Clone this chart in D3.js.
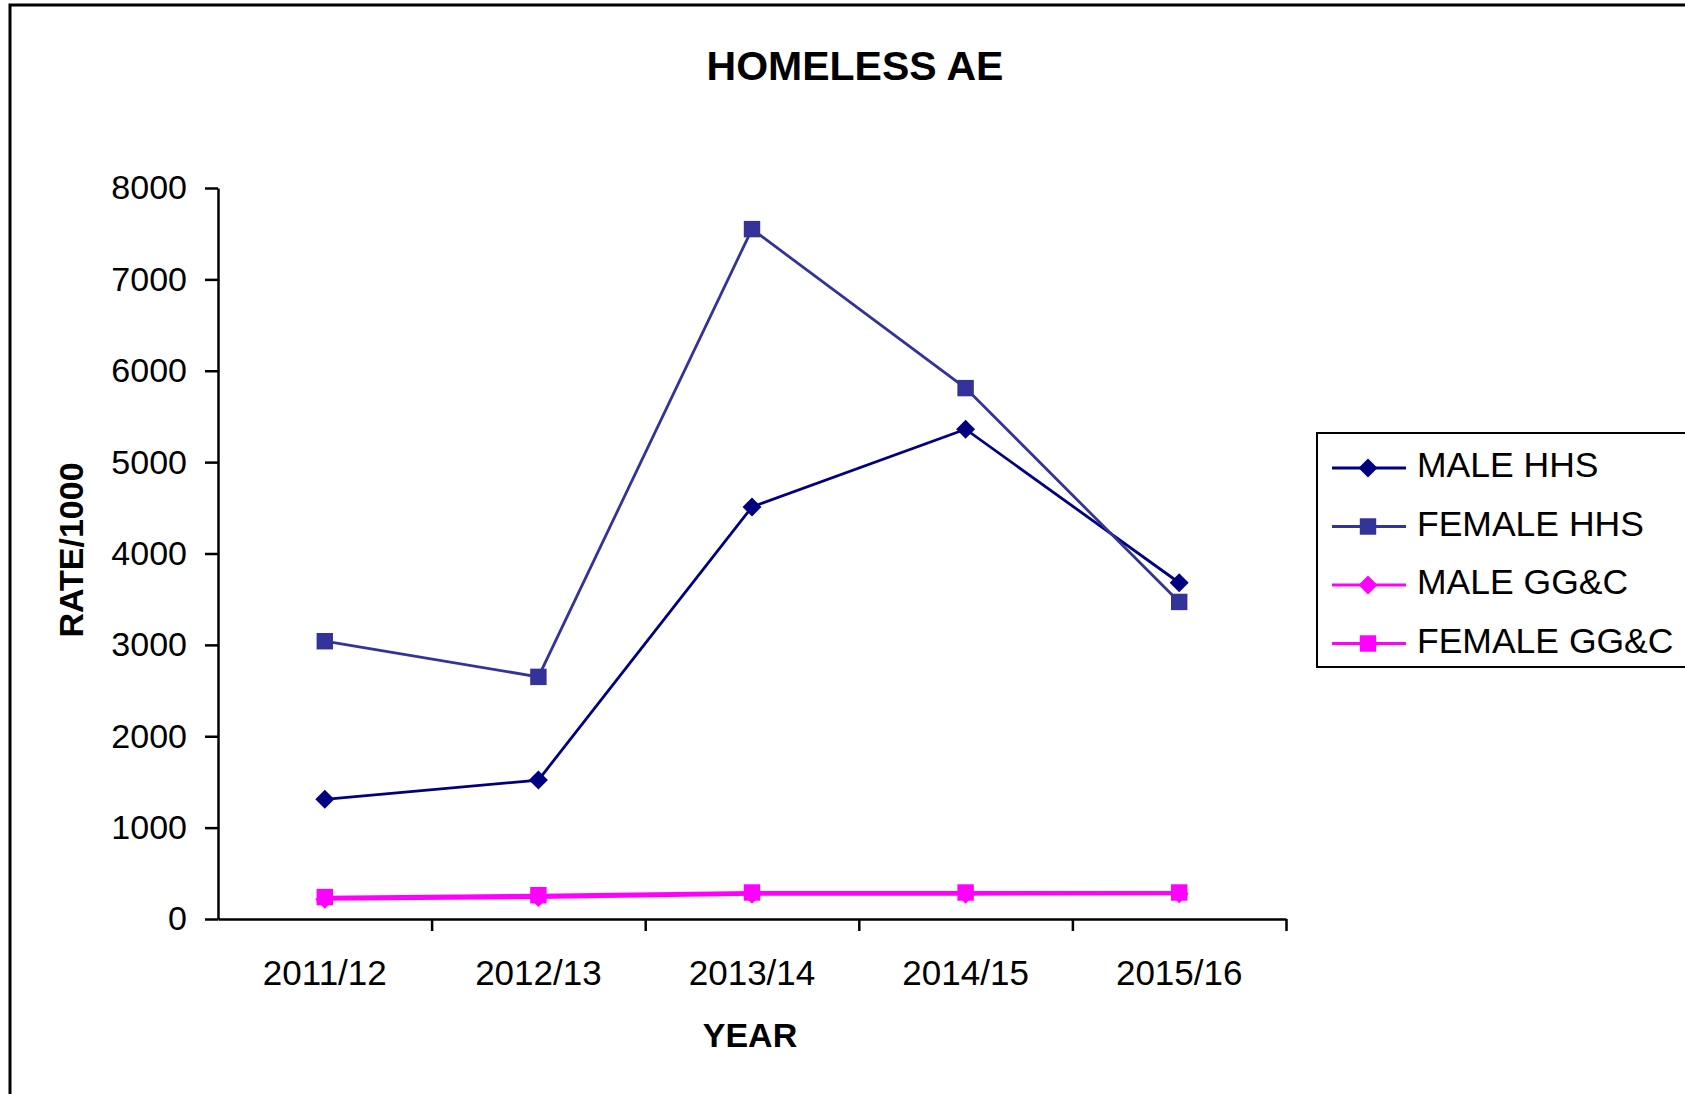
<!DOCTYPE html>
<html lang="en">
  <head>
    <meta charset="utf-8">
    <title>HOMELESS AE</title>
    <script src="https://cdn.jsdelivr.net/npm/d3@7"></script>
    <style>
      body { margin: 0; background: #fff; }
      text { font-family: "Liberation Sans", Arial, sans-serif; fill: #000; }
      .axis path, .axis line { stroke: #000; stroke-width: 2.5; }
      .axis text { font-size: 34px; }
    </style>
  </head>
  <body>
    <div id="chart"></div>
    <script>

      // values
      var years = ["2011/12", "2012/13", "2013/14", "2014/15", "2015/16"]
      var maleHHS   = [1310, 1520, 4510, 5360, 3680]
      var femaleHHS = [3040, 2650, 7550, 5810, 3470]
      var maleGGC   = [215, 235, 270, 270, 275]
      var femaleGGC = [240, 260, 290, 290, 290]
      var yTicks = [0, 1000, 2000, 3000, 4000, 5000, 6000, 7000, 8000]

      var series = [
        {name: "MALE HHS",     values: maleHHS,   color: "#000080", marker: "diamond"},
        {name: "FEMALE HHS",   values: femaleHHS, color: "#333399", marker: "square"},
        {name: "MALE GG&C",    values: maleGGC,   color: "#FF00FF", marker: "diamond"},
        {name: "FEMALE GG&C",  values: femaleGGC, color: "#FF00FF", marker: "square"}
      ]

      var w = 1685, h = 1094;
      var plotLeft = 218, plotRight = 1286, plotTop = 188, plotBottom = 919;

      var svg = d3.select("#chart").append("svg")
          .attr("width", w)
          .attr("height", h);

      // outer frame, runs off the right and bottom edge
      svg.append("rect")
        .attr("x", 10).attr("y", 5)
        .attr("width", 1700).attr("height", 1100)
        .attr("fill", "none")
        .attr("stroke", "#000")
        .attr("stroke-width", 3);

      var x = d3.scaleBand().domain(years).range([plotLeft, plotRight]);
      var y = d3.scaleLinear().domain([0, 8000]).range([plotBottom, plotTop]);
      var xEdge = d3.scaleLinear().domain([0, years.length]).range([plotLeft, plotRight]);

      // x axis: ticks between categories, labels at the centers
      svg.append("g")
        .attr("class", "axis")
        .attr("transform", "translate(0," + plotBottom + ")")
        .call(d3.axisBottom(xEdge).tickValues(d3.range(1, years.length + 1)).tickFormat("").tickSize(12).tickSizeOuter(0));

      svg.append("g")
        .attr("class", "axis")
        .attr("transform", "translate(0," + plotBottom + ")")
        .call(d3.axisBottom(x).tickSize(0).tickPadding(41))
        .call(g => g.select(".domain").remove())
        .selectAll("text").style("font-size", "35px");

      svg.append("g")
        .attr("class", "axis")
        .attr("transform", "translate(" + plotLeft + ",0)")
        .call(d3.axisLeft(y).tickValues(yTicks).tickFormat(d3.format("d")).tickSize(13).tickSizeOuter(0).tickPadding(18));

      // titles
      svg.append("text")
        .attr("x", 855).attr("y", 80)
        .attr("text-anchor", "middle")
        .style("font-size", "41px").style("font-weight", "bold")
        .text("HOMELESS AE");

      svg.append("text")
        .attr("x", 750).attr("y", 1047)
        .attr("text-anchor", "middle")
        .style("font-size", "34px").style("font-weight", "bold")
        .text("YEAR");

      svg.append("text")
        .attr("transform", "translate(83,550) rotate(-90)")
        .attr("text-anchor", "middle")
        .style("font-size", "34px").style("font-weight", "bold")
        .text("RATE/1000");

      var diamond = d3.symbol().type(d3.symbolSquare).size(180);
      var square = d3.symbol().type(d3.symbolSquare).size(270);

      function drawMarker(g, type, color, cx, cy) {
        g.append("path")
          .attr("d", type == "diamond" ? diamond() : square())
          .attr("transform", "translate(" + cx + "," + cy + ")" + (type == "diamond" ? " rotate(45)" : ""))
          .attr("fill", color);
      }

      var line = d3.line()
        .x((d, i) => x(years[i]) + x.bandwidth() / 2)
        .y(d => y(d));

      series.forEach(function(s) {
        var g = svg.append("g");
        g.append("path")
          .attr("d", line(s.values))
          .attr("fill", "none")
          .attr("stroke", s.color)
          .attr("stroke-width", 2.8);
        s.values.forEach(function(v, i) {
          drawMarker(g, s.marker, s.color, x(years[i]) + x.bandwidth() / 2, y(v));
        });
      });

      // legend
      var legend = svg.append("g");
      legend.append("rect")
        .attr("x", 1317).attr("y", 433)
        .attr("width", 400).attr("height", 234)
        .attr("fill", "#fff")
        .attr("stroke", "#000")
        .attr("stroke-width", 2);

      series.forEach(function(s, i) {
        var ly = 468 + i * 58.5;
        legend.append("line")
          .attr("x1", 1332).attr("x2", 1406)
          .attr("y1", ly).attr("y2", ly)
          .attr("stroke", s.color)
          .attr("stroke-width", 2.8);
        drawMarker(legend, s.marker, s.color, 1368, ly);
        legend.append("text")
          .attr("x", 1417).attr("y", ly + 9)
          .style("font-size", "35.5px")
          .text(s.name);
      });

    </script>
  </body>
</html>
